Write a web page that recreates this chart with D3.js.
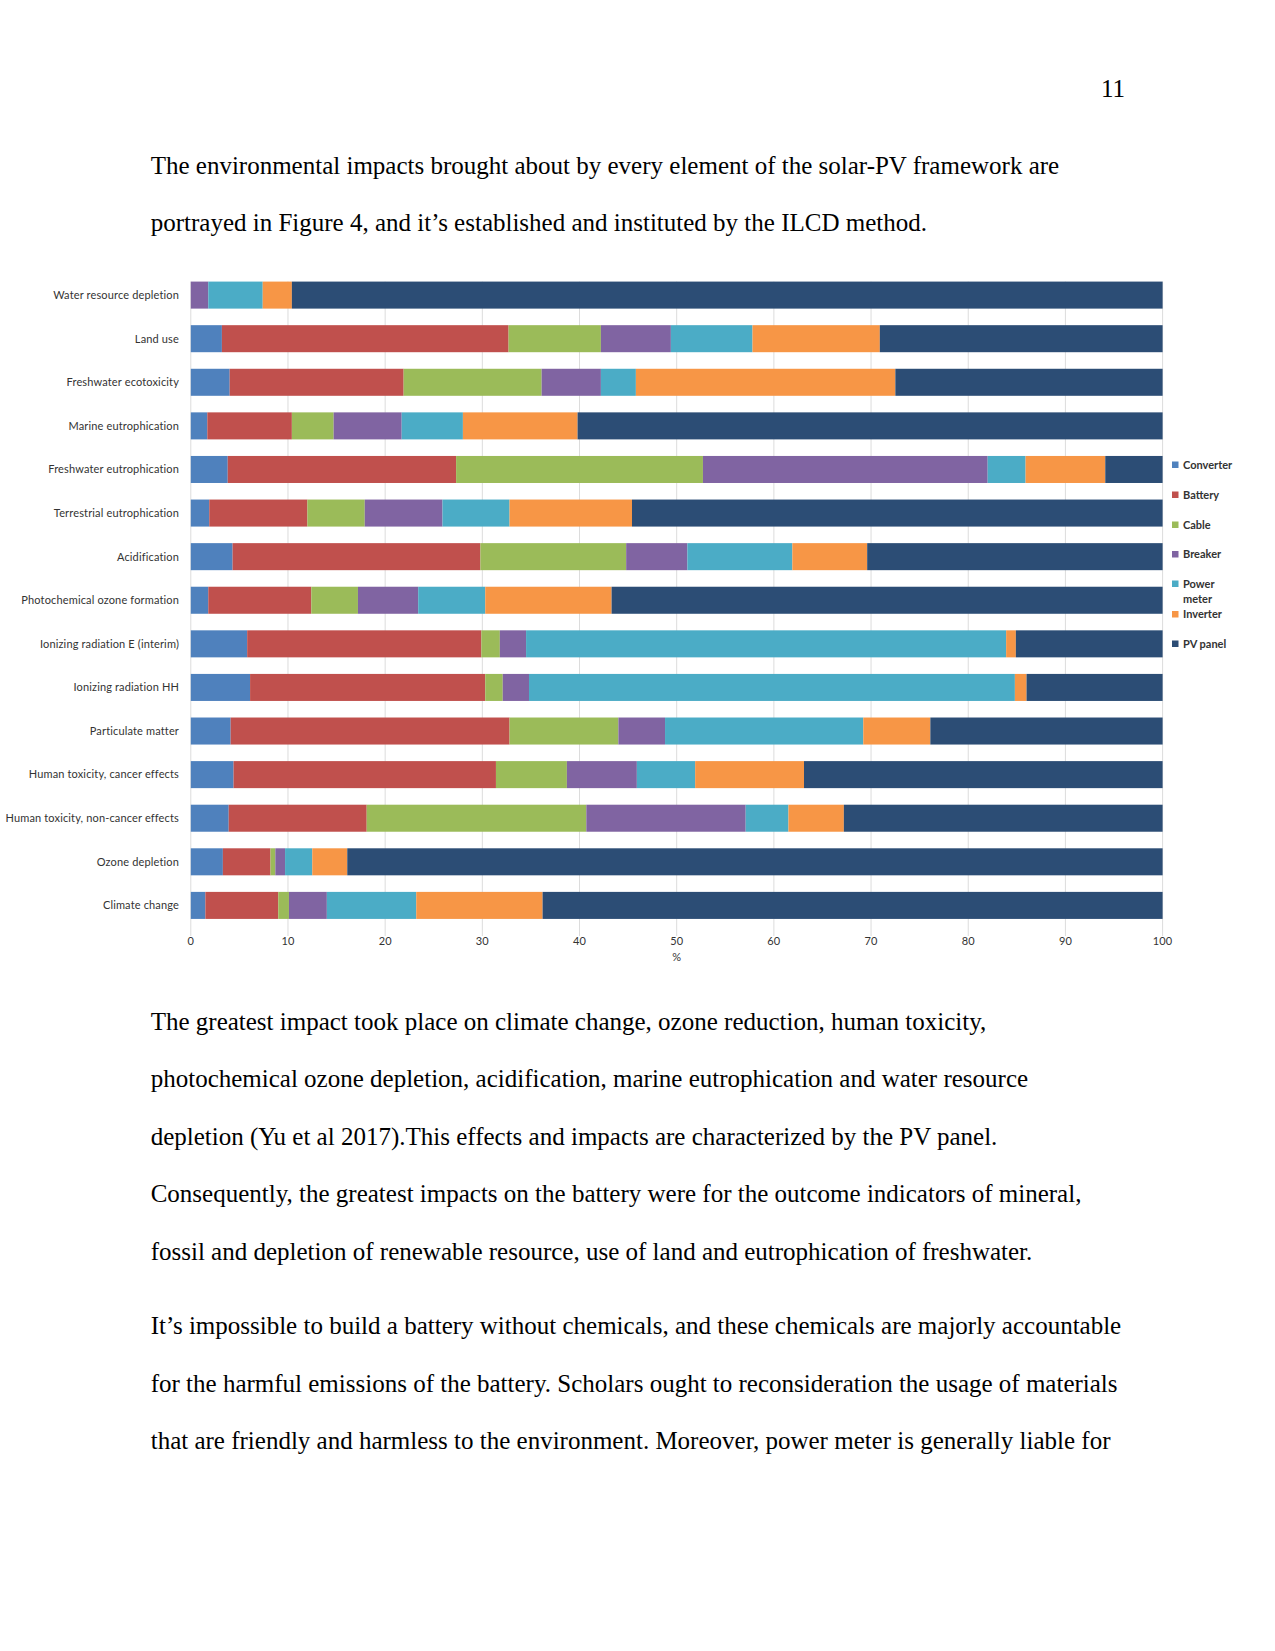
<!DOCTYPE html>
<html>
<head>
<meta charset="utf-8">
<script src="https://cdn.jsdelivr.net/npm/d3@7/dist/d3.min.js"></script>
<style>
  body { margin: 0; background: #fff; }
  .para { font-family: "Liberation Serif", "Times New Roman", serif; font-size: 25px; fill: #000; }
  .lbl { font-family: Lato, "Open Sans", sans-serif; font-size: 11px; letter-spacing: 0.15px; fill: #333; }
  .leg { font-family: Lato, "Open Sans", sans-serif; font-size: 11px; font-weight: bold; fill: #333; }
</style>
</head>
<body>
<div id="page"></div>
<script>
// impact categories, top to bottom
var categories = ["Water resource depletion", "Land use", "Freshwater ecotoxicity",
  "Marine eutrophication", "Freshwater eutrophication", "Terrestrial eutrophication",
  "Acidification", "Photochemical ozone formation", "Ionizing radiation E (interim)",
  "Ionizing radiation HH", "Particulate matter", "Human toxicity, cancer effects",
  "Human toxicity, non-cancer effects", "Ozone depletion", "Climate change"];

var components = ["Converter", "Battery", "Cable", "Breaker", "Power meter", "Inverter", "PV panel"];
var colors = ["#4f81bd", "#c0504d", "#9bbb59", "#8064a2", "#4bacc6", "#f79646", "#2c4d75"];

// share (%) of each component, same order as categories
var converter  = [0,   3.2, 4.0, 1.7, 3.8, 1.9, 4.3, 1.8, 5.8, 6.1, 4.1, 4.4, 3.9, 3.3, 1.5];
var battery    = [0,  29.5, 17.9, 8.7, 23.5, 10.1, 25.5, 10.6, 24.1, 24.2, 28.7, 27.0, 14.2, 4.9, 7.5];
var cable      = [0,   9.5, 14.2, 4.3, 25.4, 5.9, 15.0, 4.8, 1.9, 1.8, 11.2, 7.3, 22.6, 0.5, 1.1];
var breaker    = [1.8, 7.2, 6.1, 7.0, 29.3, 8.0, 6.3, 6.2, 2.7, 2.7, 4.8, 7.2, 16.4, 1.0, 3.9];
var powerMeter = [5.6, 8.4, 3.6, 6.3, 3.9, 6.9, 10.8, 6.9, 49.4, 50.0, 20.4, 6.0, 4.4, 2.8, 9.2];
var inverter   = [3.0, 13.1, 26.7, 11.8, 8.2, 12.6, 7.7, 13.0, 1.0, 1.2, 6.9, 11.2, 5.7, 3.6, 13.0];
var pvPanel    = [89.6, 29.1, 27.5, 60.2, 5.9, 54.6, 30.4, 56.7, 15.1, 14.0, 23.9, 36.9, 32.8, 83.9, 63.8];

var xTicks = [0, 10, 20, 30, 40, 50, 60, 70, 80, 90, 100];

var para1 = ["The environmental impacts brought about by every element of the solar-PV framework are",
  "portrayed in Figure 4, and it\u2019s established and instituted by the ILCD method."];
var para2 = ["The greatest impact took place on climate change, ozone reduction, human toxicity,",
  "photochemical ozone depletion, acidification, marine eutrophication and water resource",
  "depletion (Yu et al 2017).This effects and impacts are characterized by the PV panel.",
  "Consequently, the greatest impacts on the battery were for the outcome indicators of mineral,",
  "fossil and depletion of renewable resource, use of land and eutrophication of freshwater."];
var para3 = ["It\u2019s impossible to build a battery without chemicals, and these chemicals are majorly accountable",
  "for the harmful emissions of the battery. Scholars ought to reconsideration the usage of materials",
  "that are friendly and harmless to the environment. Moreover, power meter is generally liable for"];

var svg = d3.select("#page").append("svg").attr("width", 1275).attr("height", 1651);
svg.append("rect").attr("width", 1275).attr("height", 1651).attr("fill", "#fff");

// page number
svg.append("text").attr("class", "para").attr("x", 1125).attr("y", 97)
  .attr("text-anchor", "end").attr("font-size", "23px").text("11");

function writeLines(lines, y0) {
  lines.forEach(function(t, i) {
    svg.append("text").attr("class", "para").attr("x", 150.7).attr("y", y0 + i * 57.5).text(t);
  });
}
writeLines(para1, 173.5);
writeLines(para2, 1029.5);
writeLines(para3, 1334);

// chart
var series = [converter, battery, cable, breaker, powerMeter, inverter, pvPanel];
var rows = categories.map(function(c, i) {
  var r = { cat: c };
  components.forEach(function(k, j) { r[k] = series[j][i]; });
  return r;
});

var x = d3.scaleLinear().domain([0, 100]).range([190.8, 1162.6]);
var y = d3.scaleBand().domain(categories).range([273.3, 927.2])
  .paddingInner(0.38).paddingOuter(0.19);

var g = svg.append("g");

g.selectAll("line.grid").data(xTicks).enter().append("line")
  .attr("x1", function(d) { return x(d); }).attr("x2", function(d) { return x(d); })
  .attr("y1", y(categories[0])).attr("y2", 936)
  .attr("stroke", "#dcdcdc").attr("stroke-width", 1);

var stack = d3.stack().keys(components).offset(d3.stackOffsetExpand);
var layers = stack(rows);

g.selectAll("g.layer").data(layers).enter().append("g")
  .attr("fill", function(d, i) { return colors[i]; })
  .selectAll("rect").data(function(d) { return d; }).enter().append("rect")
  .attr("x", function(d) { return x(d[0] * 100); })
  .attr("width", function(d) { return x(d[1] * 100) - x(d[0] * 100); })
  .attr("y", function(d) { return y(d.data.cat); })
  .attr("height", y.bandwidth());

// category labels
g.selectAll("text.cat").data(categories).enter().append("text")
  .attr("class", "lbl").attr("x", 179)
  .attr("y", function(d) { return y(d) + y.bandwidth() / 2; })
  .attr("dy", "0.35em").attr("text-anchor", "end").text(function(d) { return d; });

// x axis labels
g.selectAll("text.tick").data(xTicks).enter().append("text")
  .attr("class", "lbl").attr("x", function(d) { return x(d); }).attr("y", 945)
  .attr("text-anchor", "middle").attr("font-size", "9.5px").attr("letter-spacing", "0")
  .text(function(d) { return d; });
svg.append("text").attr("class", "lbl").attr("x", x(50)).attr("y", 961)
  .attr("text-anchor", "middle").attr("font-size", "9px").text("%");

// legend
var legY = [465, 495, 525, 554.5, 584, 614.5, 644];
components.forEach(function(k, i) {
  svg.append("rect").attr("x", 1172).attr("y", legY[i] - 3.5).attr("width", 6.5).attr("height", 6.5)
    .attr("fill", colors[i]);
  if (k == "Power meter") {
    svg.append("text").attr("class", "leg").attr("x", 1183).attr("y", legY[i]).attr("dy", "0.35em").text("Power");
    svg.append("text").attr("class", "leg").attr("x", 1183).attr("y", legY[i] + 15).attr("dy", "0.35em").text("meter");
  } else {
    svg.append("text").attr("class", "leg").attr("x", 1183).attr("y", legY[i]).attr("dy", "0.35em").text(k);
  }
});
</script>
</body>
</html>
